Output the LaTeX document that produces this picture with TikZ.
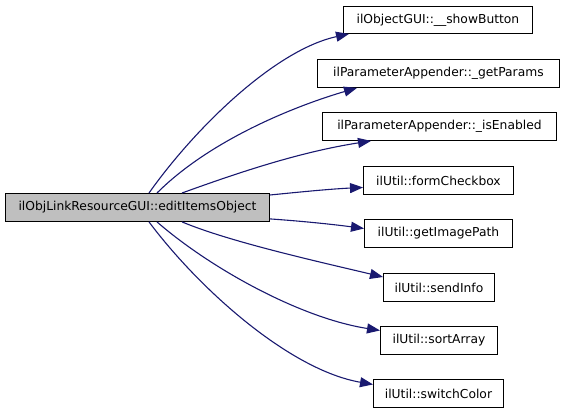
\documentclass[tikz,border=0pt]{standalone}
\usepackage{fontspec}
\setmainfont{DejaVu Sans}
\usetikzlibrary{arrows.meta}
\definecolor{edgeblue}{RGB}{25,25,112}
\definecolor{mainfill}{RGB}{191,191,191}
\begin{document}
\begin{tikzpicture}[x=1pt,y=-1pt,
  box/.style={draw=black,line width=0.9pt,fill=white,anchor=north west,inner sep=0pt,
    font=\fontsize{12.3}{14}\selectfont,text=black},
  mainbox/.style={box,fill=mainfill},
  calls/.style={draw=edgeblue,line width=1.1pt,-{Triangle[length=13pt,width=10pt]},edgeblue}]
\useasboundingbox (0,0) rectangle (565,413);
\node[mainbox,minimum width=264pt,minimum height=28pt] (main) at (5,193) {ilObjLinkResourceGUI::editItemsObject};
\node[box,minimum width=189pt,minimum height=27pt] (sb) at (343,6) {ilObjectGUI::\_\_showButton};
\node[box,minimum width=242pt,minimum height=28pt] (gp) at (317,59) {ilParameterAppender::\_getParams};
\node[box,minimum width=234pt,minimum height=28pt] (ie) at (322,112) {ilParameterAppender::\_isEnabled};
\node[box,minimum width=150pt,minimum height=28pt] (fc) at (363,166) {ilUtil::formCheckbox};
\node[box,minimum width=148pt,minimum height=28pt] (gi) at (364,219) {ilUtil::getImagePath};
\node[box,minimum width=111pt,minimum height=28pt] (si) at (383,273) {ilUtil::sendInfo};
\node[box,minimum width=117pt,minimum height=28pt] (sa) at (380,326) {ilUtil::sortArray};
\node[box,minimum width=130pt,minimum height=28pt] (sc) at (373,379) {ilUtil::switchColor};

\draw[calls] ([xshift=144pt]main.north west) .. controls (195,128) and (275,50) .. ([xshift=6pt]sb.south west);
\draw[calls] ([xshift=152pt]main.north west) .. controls (210,140) and (295,106) .. ([xshift=40pt]gp.south west);
\draw[calls] ([xshift=177pt]main.north west) .. controls (240,172) and (300,152) .. ([xshift=49pt]ie.south west);
\draw[calls] ([yshift=-2pt]main.north east) .. controls (300,192) and (330,189) .. ([yshift=-7pt]fc.west);
\draw[calls] ([yshift=3pt]main.south east) .. controls (300,221) and (330,224) .. ([yshift=5pt]gi.west);
\draw[calls] ([xshift=177pt]main.south west) .. controls (230,242) and (320,262) .. ([yshift=-4pt]si.north west);
\draw[calls] ([xshift=152pt]main.south west) .. controls (210,268) and (300,318) .. ([yshift=10pt]sa.west);
\draw[calls] ([xshift=144pt]main.south west) .. controls (200,290) and (290,370) .. ([yshift=9pt]sc.west);
\end{tikzpicture}
\end{document}
